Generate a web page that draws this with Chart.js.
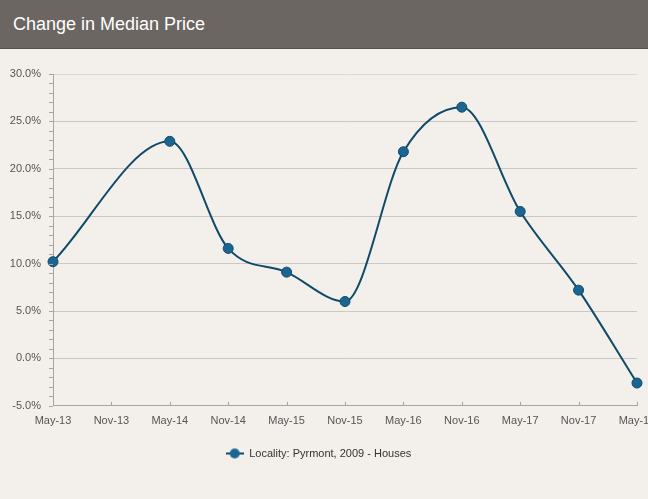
<!DOCTYPE html>
<html>
<head>
<meta charset="utf-8">
<script src="https://cdn.jsdelivr.net/npm/chart.js@4.4.1/dist/chart.umd.min.js"></script>
<style>
  html, body { margin: 0; padding: 0; width: 648px; height: 499px; overflow: hidden; background: #f3f0ec; }
  #header { position: absolute; left: 0; top: 0; width: 648px; height: 48px; background: #6b6662; border-bottom: 1px solid #55514e; }
  #header span { position: absolute; left: 13px; top: 14px; font: 18px "Liberation Sans", Arial, sans-serif; color: #ffffff; }
  #wrap { position: absolute; left: 0; top: 49px; width: 690px; height: 450px; }
</style>
</head>
<body>
<div id="header"><span>Change in Median Price</span></div>
<div id="wrap"><canvas id="c" width="690" height="450"></canvas></div>
<script>
const categories = ['May-13','Nov-13','May-14','Nov-14','May-15','Nov-15','May-16','Nov-16','May-17','Nov-17','May-18'];
const medianChange = [10.2, null, 22.9, 11.6, 9.1, 6.0, 21.8, 26.5, 15.5, 7.2, -2.6];
const yTicks = [-5, 0, 5, 10, 15, 20, 25, 30];
const seriesName = 'Locality: Pyrmont, 2009 - Houses';

const lineColor = '#0f4a68';
const pointColor = '#1a6592';

// legend marker: short line with a circle
const marker = document.createElement('canvas');
marker.width = 18; marker.height = 12;
(function(){
  const g = marker.getContext('2d');
  g.strokeStyle = lineColor; g.lineWidth = 2;
  g.beginPath(); g.moveTo(0, 6); g.lineTo(18, 6); g.stroke();
  g.fillStyle = pointColor; g.beginPath(); g.arc(9, 6, 5, 0, Math.PI*2); g.fill();
})();

const axisTicks = {
  id: 'axisTicks',
  afterDraw(chart) {
    const ctx = chart.ctx;
    const y = chart.scales.y, x = chart.scales.x;
    const left = chart.chartArea.left, bottom = chart.chartArea.bottom;
    ctx.save();
    ctx.strokeStyle = '#a9a6a2';
    ctx.lineWidth = 1;
    for (let v = y.min; v <= y.max; v += 1) {
      const py = Math.round(y.getPixelForValue(v)) + 0.5;
      ctx.beginPath(); ctx.moveTo(left - 4, py); ctx.lineTo(left, py); ctx.stroke();
    }
    for (let i = 0; i < categories.length; i++) {
      const px = Math.round(x.getPixelForValue(i)) + 0.5;
      ctx.beginPath(); ctx.moveTo(px, bottom); ctx.lineTo(px, bottom - 4); ctx.stroke();
    }
    ctx.restore();
  }
};

new Chart(document.getElementById('c'), {
  type: 'line',
  data: {
    labels: categories,
    datasets: [{
      label: seriesName,
      data: medianChange,
      borderColor: lineColor,
      borderWidth: 2,
      backgroundColor: pointColor,
      pointBackgroundColor: pointColor,
      pointBorderColor: lineColor,
      pointBorderWidth: 1,
      pointRadius: 5,
      cubicInterpolationMode: 'monotone',
      spanGaps: true,
      clip: false
    }]
  },
  options: {
    responsive: false,
    animation: false,
    devicePixelRatio: 1,
    layout: { padding: { top: 25, right: 53, left: 0, bottom: 30 } },
    plugins: {
      tooltip: { enabled: false },
      legend: {
        position: 'bottom',
        labels: {
          usePointStyle: true,
          pointStyleWidth: 18,
          padding: 11,
          color: '#333333',
          font: { family: '"Liberation Sans", Arial, sans-serif', size: 11 },
          generateLabels(chart) {
            const items = Chart.defaults.plugins.legend.labels.generateLabels(chart);
            items.forEach(it => { it.pointStyle = marker; });
            return items;
          }
        }
      }
    },
    scales: {
      x: {
        type: 'category',
        offset: false,
        grid: { display: false, drawTicks: false },
        border: { display: true, color: '#a9a6a2', width: 1 },
        ticks: {
          autoSkip: false, maxRotation: 0, padding: 9,
          color: '#555555',
          font: { family: '"Liberation Sans", Arial, sans-serif', size: 11 }
        }
      },
      y: {
        min: -5, max: 30,
        afterBuildTicks(s) { s.ticks = yTicks.map(v => ({ value: v })); },
        afterFit(s) { s.width = 53; },
        grid: {
          drawTicks: false,
          color: ctx => (ctx.tick && ctx.tick.value === 30) ? '#dcd9d4' : '#cbc8c3'
        },
        border: { display: true, color: '#a9a6a2', width: 1 },
        ticks: {
          padding: 12,
          color: '#555555',
          font: { family: '"Liberation Sans", Arial, sans-serif', size: 11 },
          callback: v => Number(v).toFixed(1) + '%'
        }
      }
    }
  },
  plugins: [axisTicks]
});
</script>
</body>
</html>
